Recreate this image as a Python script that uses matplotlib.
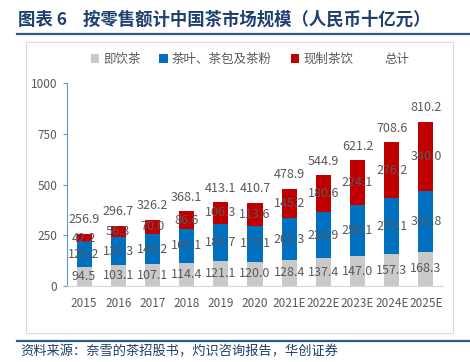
import matplotlib
matplotlib.use("Agg")
import matplotlib.pyplot as plt
import numpy as np
from matplotlib.patches import Rectangle
from matplotlib.lines import Line2D

plt.rcParams['font.family'] = ['Noto Sans CJK SC', 'DejaVu Sans']

years = ["2015", "2016", "2017", "2018", "2019", "2020",
         "2021E", "2022E", "2023E", "2024E", "2025E"]
rtd_tea = [94.5, 103.1, 107.1, 114.4, 121.1, 120.0, 128.4, 137.4, 147.0, 157.3, 168.3]
leaf_tea = [120.2, 137.3, 149.2, 167.1, 185.7, 177.1, 205.3, 226.9, 250.1, 275.1, 301.8]
fresh_tea = [42.2, 56.3, 70.0, 86.6, 106.3, 113.6, 145.2, 180.6, 224.1, 276.2, 340.0]
total = [256.9, 296.7, 326.2, 368.1, 413.1, 410.7, 478.9, 544.9, 621.2, 708.6, 810.2]

c_gray = "#C9C9C9"
c_blue = "#0070C0"
c_red = "#C00000"
txt = "#595959"

fig = plt.figure(figsize=(4.7, 3.62), dpi=100)

# title and rules
fig.text(18/470, 1-20/362, "图表 6    按零售额计中国茶市场规模（人民币十亿元）",
         fontsize=12.5, fontweight='bold', color="#1F3F6E", va='center', ha='left')
fig.add_artist(Line2D([17/470, 1], [1-34/362]*2, color="#2F5A8C", lw=1.6))
fig.add_artist(Line2D([17/470, 1], [1-341/362]*2, color="#2F5A8C", lw=1.6))
fig.add_artist(Rectangle((26/470, 1-333/362), (453-26)/470, (333-42)/362,
                         fill=False, ec="#D9D9D9", lw=0.8))
fig.text(20/470, 1-352/362, "资料来源：奈雪的茶招股书，灼识咨询报告，华创证券",
         fontsize=9.5, color="#1F3F6E", style='italic', va='center', ha='left')

ax = fig.add_axes([67/470, 1-286/362, (443-67)/470, (286-83)/362])
x = np.arange(len(years))
w = 0.44
b1 = ax.bar(x, rtd_tea, w, color=c_gray, label="即饮茶")
b2 = ax.bar(x, leaf_tea, w, bottom=rtd_tea, color=c_blue, label="茶叶、茶包及茶粉")
bottom3 = np.array(rtd_tea) + np.array(leaf_tea)
b3 = ax.bar(x, fresh_tea, w, bottom=bottom3, color=c_red, label="现制茶饮")
tot_line, = ax.plot(x, total, lw=0, label="总计")

fs = 9
for i in range(len(years)):
    ax.text(x[i], rtd_tea[i]/2, f"{rtd_tea[i]:.1f}", ha='center', va='center', fontsize=fs, color=txt)
    ax.text(x[i], rtd_tea[i] + leaf_tea[i]/2, f"{leaf_tea[i]:.1f}", ha='center', va='center', fontsize=fs, color=txt)
    ax.text(x[i], bottom3[i] + fresh_tea[i]/2, f"{fresh_tea[i]:.1f}", ha='center', va='center', fontsize=fs, color=txt)
    ax.annotate(f"{total[i]:.1f}", (x[i], total[i]), xytext=(0, 10), textcoords='offset points',
                ha='center', va='center', fontsize=fs, color=txt)

ax.set_xlim(-0.5, len(years)-0.5)
ax.set_ylim(0, 1000)
ax.set_yticks([0, 250, 500, 750, 1000])
ax.set_xticks(x)
ax.set_xticklabels(years)
ax.tick_params(axis='x', length=0, labelsize=8.5, labelcolor=txt, pad=8)
ax.tick_params(axis='y', length=3, color="#5B9BD5", labelsize=8.5, labelcolor=txt, pad=4)
for s in ['top', 'right']:
    ax.spines[s].set_visible(False)
ax.spines['left'].set_color("#5B9BD5")
ax.spines['bottom'].set_color("#D9D9D9")

handles = [b1, b2, b3, Line2D([], [], lw=0)]
fig.legend(handles, ["即饮茶", "茶叶、茶包及茶粉", "现制茶饮", "总计"], loc='center',
           bbox_to_anchor=(250/470, 1-59/362), ncol=4, frameon=False, fontsize=9,
           labelcolor=txt, handlelength=0.7, handleheight=0.7, handletextpad=0.3, columnspacing=1.5)

fig.savefig("out.png", dpi=100)
